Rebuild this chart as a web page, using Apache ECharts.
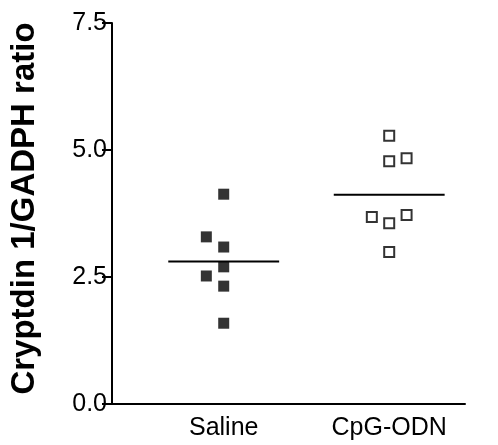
<!DOCTYPE html>
<html>
<head>
<meta charset="utf-8">
<script src="https://cdn.jsdelivr.net/npm/echarts@6/dist/echarts.min.js"></script>
<style>
html, body { margin: 0; padding: 0; background: #fff; }
#chart { width: 498px; height: 445px; }
</style>
</head>
<body>
<div id="chart"></div>
<script>
// groups on the x axis (1 = Saline, 2 = CpG-ODN)
var groups = ['Saline', 'CpG-ODN'];
var salineValues = [4.13, 3.29, 3.09, 2.70, 2.52, 2.32, 1.59];
var salineJitter = [0, -0.105, 0, 0, -0.105, 0, 0];
var cpgValues = [5.28, 4.78, 4.84, 3.68, 3.56, 3.72, 2.99];
var cpgJitter = [0, 0, 0.105, -0.105, 0, 0.105, 0];
var yTicks = [0, 2.5, 5, 7.5];

function mean(arr) {
    var s = 0;
    for (var i = 0; i < arr.length; i++) s += arr[i];
    return s / arr.length;
}
function points(pos, vals, jit) {
    var out = [];
    for (var i = 0; i < vals.length; i++) out.push([pos + jit[i], vals[i]]);
    return out;
}
function meanLine(pos, vals) {
    var m = mean(vals);
    return [[pos - 0.335, m], [pos + 0.335, m]];
}

var chart = echarts.init(document.getElementById('chart'));
var option = {
    animation: false,
    textStyle: { fontFamily: 'Liberation Sans' },
    grid: { left: 111, right: 33, top: 23, bottom: 41 },
    xAxis: {
        type: 'value',
        min: 0.325,
        max: 2.458,
        splitLine: { show: false },
        axisLine: { onZero: false, lineStyle: { color: '#000', width: 2 } },
        axisTick: { show: false },
        axisLabel: {
            customValues: [1, 2],
            formatter: function (v) { return groups[Math.round(v) - 1]; },
            color: '#000',
            fontSize: 25,
            margin: 12
        }
    },
    yAxis: {
        type: 'value',
        min: yTicks[0],
        max: yTicks[yTicks.length - 1],
        interval: 2.5,
        splitLine: { show: false },
        axisLine: { show: true, lineStyle: { color: '#000', width: 2 } },
        axisTick: { show: true, length: 10, lineStyle: { color: '#000', width: 2 } },
        axisLabel: {
            color: '#000',
            fontSize: 25,
            margin: 5,
            formatter: function (v) { return v.toFixed(1); }
        },
        name: 'Cryptdin 1/GADPH ratio',
        nameLocation: 'middle',
        nameGap: 71,
        nameTextStyle: { color: '#000', fontSize: 33, fontWeight: 'bold', padding: [0, 0, 0, 10] }
    },
    series: [
        {
            name: 'Saline',
            type: 'scatter',
            symbol: 'rect',
            symbolSize: 11,
            itemStyle: { color: '#000' },
            data: points(1, salineValues, salineJitter)
        },
        {
            name: 'CpG-ODN',
            type: 'scatter',
            symbol: 'rect',
            symbolSize: 10,
            itemStyle: { color: '#fff', borderColor: '#000', borderWidth: 2 },
            data: points(2, cpgValues, cpgJitter)
        },
        {
            type: 'line',
            symbol: 'none',
            lineStyle: { color: '#000', width: 2 },
            data: meanLine(1, salineValues)
        },
        {
            type: 'line',
            symbol: 'none',
            lineStyle: { color: '#000', width: 2 },
            data: meanLine(2, cpgValues)
        }
    ]
};
chart.setOption(option);
</script>
</body>
</html>
